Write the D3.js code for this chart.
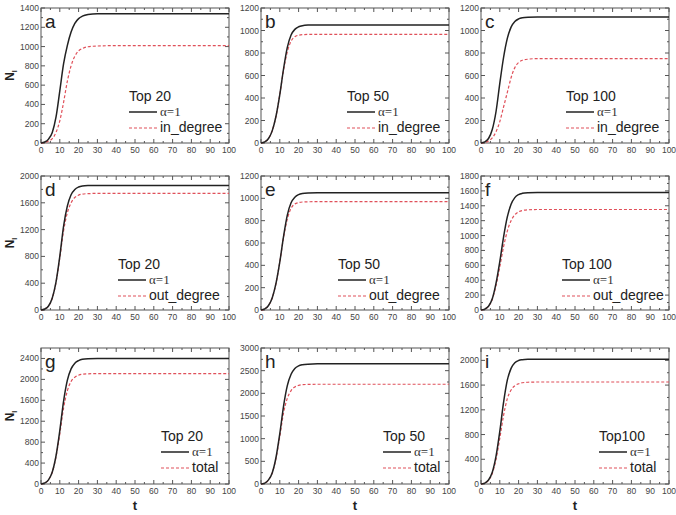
<!DOCTYPE html>
<html>
<head>
<meta charset="utf-8">
<script src="https://cdn.jsdelivr.net/npm/d3@7"></script>
<style>
  body { margin: 0; background: #fff; }
  text { font-family: "Liberation Sans", Arial, sans-serif; }
</style>
</head>
<body>
<div class="container"></div>
<script>
// time points shared by every curve
const tVals = [0, 2, 4, 6, 8, 10, 12, 14, 16, 18, 20, 22, 25, 30, 40, 60, 80, 100]

// alpha=1 (solid black) series, one per panel
const aBlack = [0, 10, 40, 110, 270, 540, 820, 1010, 1150, 1240, 1290, 1315, 1332, 1340, 1340, 1340, 1340, 1340]
const bBlack = [0, 10, 40, 110, 240, 430, 660, 850, 960, 1010, 1033, 1043, 1048, 1050, 1050, 1050, 1050, 1050]
const cBlack = [0, 10, 40, 120, 280, 530, 760, 930, 1030, 1080, 1103, 1113, 1118, 1120, 1120, 1120, 1120, 1120]
const dBlack = [0, 15, 60, 180, 420, 800, 1250, 1550, 1720, 1800, 1835, 1850, 1857, 1860, 1860, 1860, 1860, 1860]
const eBlack = [0, 10, 40, 110, 240, 430, 660, 850, 960, 1010, 1033, 1043, 1048, 1050, 1050, 1050, 1050, 1050]
const fBlack = [0, 12, 50, 150, 360, 650, 980, 1250, 1420, 1510, 1550, 1567, 1576, 1580, 1580, 1580, 1580, 1580]
const gBlack = [0, 20, 80, 230, 540, 1020, 1580, 1980, 2200, 2310, 2360, 2385, 2396, 2400, 2400, 2400, 2400, 2400]
const hBlack = [0, 20, 90, 250, 590, 1110, 1720, 2170, 2420, 2550, 2605, 2630, 2644, 2650, 2650, 2650, 2650, 2650]
const iBlack = [0, 15, 65, 190, 450, 850, 1320, 1680, 1870, 1960, 1997, 2010, 2017, 2020, 2020, 2020, 2020, 2020]

// comparison (red dashed) series
const aRed = [0, 5, 20, 45, 110, 230, 420, 640, 800, 900, 955, 980, 998, 1006, 1010, 1010, 1010, 1010]
const bRed = [0, 10, 40, 110, 240, 430, 650, 810, 905, 945, 958, 963, 965, 966, 966, 966, 966, 966]
const cRed = [0, 5, 18, 45, 100, 190, 320, 450, 580, 670, 715, 735, 745, 750, 750, 750, 750, 750]
const dRed = [0, 15, 60, 175, 410, 780, 1180, 1450, 1600, 1680, 1715, 1730, 1737, 1740, 1740, 1740, 1740, 1740]
const eRed = [0, 10, 40, 110, 240, 430, 650, 815, 910, 950, 962, 967, 969, 970, 970, 970, 970, 970]
const fRed = [0, 12, 50, 145, 330, 580, 850, 1060, 1200, 1280, 1320, 1337, 1346, 1350, 1350, 1350, 1350, 1350]
const gRed = [0, 20, 80, 225, 520, 960, 1450, 1780, 1960, 2040, 2080, 2098, 2106, 2110, 2110, 2110, 2110, 2110]
const hRed = [0, 20, 90, 245, 570, 1050, 1570, 1890, 2060, 2140, 2175, 2190, 2197, 2200, 2200, 2200, 2200, 2200]
const iRed = [0, 15, 60, 170, 400, 740, 1110, 1380, 1520, 1590, 1622, 1638, 1646, 1650, 1650, 1650, 1650, 1650]

const letters = ["a", "b", "c", "d", "e", "f", "g", "h", "i"]
const topLabels = ["Top 20", "Top 50", "Top 100", "Top 20", "Top 50", "Top 100", "Top 20", "Top 50", "Top100"]
const redLabels = ["in_degree", "in_degree", "in_degree", "out_degree", "out_degree", "out_degree", "total", "total", "total"]
const yMax = [1400, 1200, 1200, 2000, 1200, 1800, 2600, 3000, 2200]
const yStep = [200, 200, 200, 400, 200, 200, 400, 500, 400]
const xTicks = [0, 10, 20, 30, 40, 50, 60, 70, 80, 90, 100]
const blacks = [aBlack, bBlack, cBlack, dBlack, eBlack, fBlack, gBlack, hBlack, iBlack]
const reds = [aRed, bRed, cRed, dRed, eRed, fRed, gRed, hRed, iRed]

const w = 676
const h = 515
const colX = [41, 261, 481]
const plotW = 188
const rowY = [[8, 143], [176, 310], [348, 484]]
const legendX = [88, 86, 85, 77, 77, 81, 120, 122, 118]
const axisColor = "#555"
const redColor = "#e0505a"

const svg = d3.select(".container")
  .append("svg")
  .attr("width", w)
  .attr("height", h)

letters.forEach((letter, i) => {
  const col = i % 3
  const row = Math.floor(i / 3)
  const x0 = colX[col]
  const [top, bottom] = rowY[row]

  const x = d3.scaleLinear().domain([0, 100]).range([x0, x0 + plotW])
  const y = d3.scaleLinear().domain([0, yMax[i]]).range([bottom, top])

  const g = svg.append("g")

  // y ticks: major labelled ones + minor halfway
  const yMajor = d3.range(0, yMax[i] + 1, yStep[i]).filter(v => !(i == 6 && v == 2600) && !(i == 8 && v == 2200))
  const yMinor = d3.range(yStep[i] / 2, yMax[i], yStep[i])
  const xMinor = d3.range(5, 100, 10)

  const majorY = yMajor.concat(i == 6 || i == 8 ? [] : [])
  majorY.forEach(v => {
    g.append("line").attr("x1", x0).attr("x2", x0 + 4).attr("y1", y(v)).attr("y2", y(v)).attr("stroke", axisColor)
    g.append("line").attr("x1", x0 + plotW).attr("x2", x0 + plotW - 4).attr("y1", y(v)).attr("y2", y(v)).attr("stroke", axisColor)
    g.append("text").attr("x", x0 - 2).attr("y", y(v) + 3).attr("text-anchor", "end")
      .attr("font-size", 8.5).attr("fill", "#444").text(v)
  })
  yMinor.forEach(v => {
    g.append("line").attr("x1", x0).attr("x2", x0 + 2).attr("y1", y(v)).attr("y2", y(v)).attr("stroke", axisColor)
    g.append("line").attr("x1", x0 + plotW).attr("x2", x0 + plotW - 2).attr("y1", y(v)).attr("y2", y(v)).attr("stroke", axisColor)
  })
  xTicks.forEach(v => {
    g.append("line").attr("x1", x(v)).attr("x2", x(v)).attr("y1", bottom).attr("y2", bottom - 4).attr("stroke", axisColor)
    g.append("line").attr("x1", x(v)).attr("x2", x(v)).attr("y1", top).attr("y2", top + 4).attr("stroke", axisColor)
    g.append("text").attr("x", x(v)).attr("y", bottom + 10).attr("text-anchor", "middle")
      .attr("font-size", 8.5).attr("fill", "#444").text(v)
  })
  xMinor.forEach(v => {
    g.append("line").attr("x1", x(v)).attr("x2", x(v)).attr("y1", bottom).attr("y2", bottom - 2).attr("stroke", axisColor)
    g.append("line").attr("x1", x(v)).attr("x2", x(v)).attr("y1", top).attr("y2", top + 2).attr("stroke", axisColor)
  })

  g.append("rect")
    .attr("x", x0).attr("y", top)
    .attr("width", plotW).attr("height", bottom - top)
    .attr("fill", "none").attr("stroke", axisColor).attr("stroke-width", 1)

  const line = d3.line()
    .x((d, k) => x(tVals[k]))
    .y(d => y(d))
    .curve(d3.curveMonotoneX)

  g.append("path").attr("d", line(reds[i]))
    .attr("fill", "none").attr("stroke", redColor).attr("stroke-width", 1.2)
    .attr("stroke-dasharray", "3,2")
  g.append("path").attr("d", line(blacks[i]))
    .attr("fill", "none").attr("stroke", "#222").attr("stroke-width", 1.5)

  // panel letter
  g.append("text").attr("x", x0 + 4).attr("y", top + 20)
    .attr("font-size", 19).attr("fill", "#222").text(letter)

  // legend
  const lx = x0 + legendX[i]
  const ly = top + 93
  g.append("text").attr("x", lx).attr("y", ly).attr("font-size", 14).attr("fill", "#222").text(topLabels[i])
  g.append("line").attr("x1", lx).attr("x2", lx + 28).attr("y1", ly + 11).attr("y2", ly + 11)
    .attr("stroke", "#222").attr("stroke-width", 1.5)
  g.append("text").attr("x", lx + 31).attr("y", ly + 15).attr("font-size", 13)
    .style("font-family", "'Liberation Serif', 'Times New Roman', serif").attr("fill", "#333").text("α=1")
  g.append("line").attr("x1", lx).attr("x2", lx + 28).attr("y1", ly + 27).attr("y2", ly + 27)
    .attr("stroke", redColor).attr("stroke-width", 1.2).attr("stroke-dasharray", "3,2")
  g.append("text").attr("x", lx + 31).attr("y", ly + 31).attr("font-size", 14).attr("fill", "#222").text(redLabels[i])

  // axis titles
  if (col == 0) {
    const t = g.append("text")
      .attr("transform", `translate(14, ${(top + bottom) / 2}) rotate(-90)`)
      .attr("text-anchor", "middle").attr("font-size", 12).attr("font-weight", "bold").attr("fill", "#222")
    t.append("tspan").text("N")
    t.append("tspan").attr("font-size", 7).attr("dy", 3).text("I")
  }
  if (row == 2) {
    g.append("text").attr("x", x0 + plotW / 2).attr("y", 510).attr("text-anchor", "middle")
      .attr("font-size", 13).attr("font-weight", "bold").attr("fill", "#222").text("t")
  }
})
</script>
</body>
</html>
